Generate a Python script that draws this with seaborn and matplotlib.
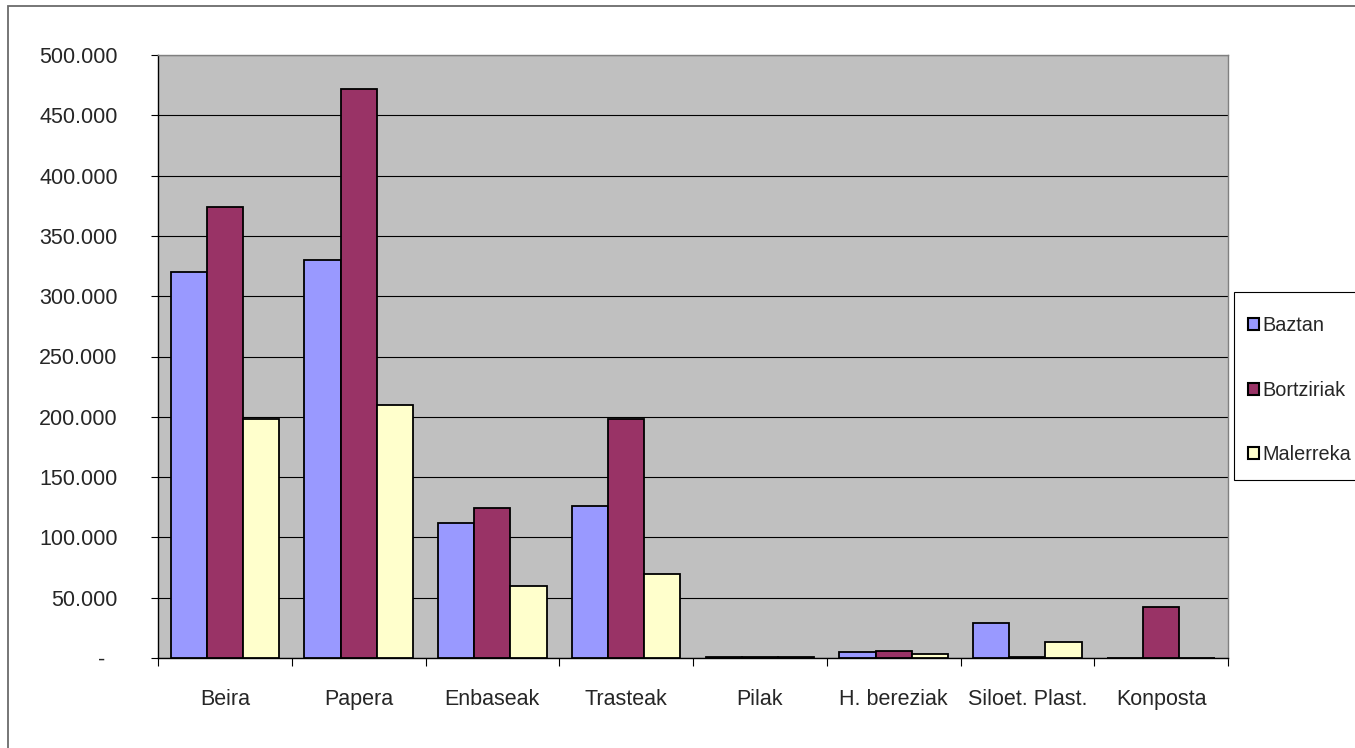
import matplotlib
matplotlib.use("Agg")
import matplotlib.pyplot as plt
import seaborn as sns
import pandas as pd
from matplotlib.patches import Rectangle
from matplotlib.ticker import FixedLocator, FuncFormatter

categories = ["Beira", "Papera", "Enbaseak", "Trasteak", "Pilak", "H. bereziak", "Siloet. Plast.", "Konposta"]
baztan = [320000, 330000, 112000, 126000, 500, 5200, 29000, 0]
bortziriak = [374000, 472000, 124000, 198000, 1000, 6000, 500, 42500]
malerreka = [198000, 210000, 59500, 70000, 500, 3500, 13500, 0]
series_names = ["Baztan", "Bortziriak", "Malerreka"]
colors = ["#9999FF", "#993366", "#FFFFCC"]

rows = []
for name, vals in zip(series_names, [baztan, bortziriak, malerreka]):
    for c, v in zip(categories, vals):
        rows.append({"cat": c, "serie": name, "val": v})
df = pd.DataFrame(rows)

sns.set_theme(style="white")
plt.rcParams['font.family'] = ['Liberation Sans', 'DejaVu Sans']

W, H = 1355, 748
fig = plt.figure(figsize=(W / 100, H / 100), dpi=100)
ax = fig.add_axes([158 / W, 1 - 658 / H, (1228 - 158) / W, (658 - 55) / H])
ax.set_facecolor("#C0C0C0")

sns.barplot(data=df, x="cat", y="val", hue="serie", order=categories,
            hue_order=series_names, palette=colors, width=0.81,
            edgecolor="black", linewidth=1.3, saturation=1, ax=ax, legend=False,
            errorbar=None, zorder=3)

ax.set_xlim(-0.5, len(categories) - 0.5)
ax.set_ylim(0, 500000)
ax.set_yticks(range(0, 500001, 50000))
ax.yaxis.set_major_formatter(FuncFormatter(
    lambda v, p: "-  " if v == 0 else f"{int(v):,}".replace(",", ".")))
ax.grid(axis="y", color="black", linewidth=0.8, zorder=1)
ax.set_axisbelow(True)
ax.set_xlabel("")
ax.set_ylabel("")

ax.tick_params(axis="y", which="major", length=5, width=0.8, color="black",
               direction="out", pad=24, labelsize=15.5, left=True)
ax.tick_params(axis="x", which="major", length=0, pad=22, labelsize=15.5)
ax.xaxis.set_minor_locator(FixedLocator([i - 0.5 for i in range(len(categories) + 1)]))
ax.tick_params(axis="x", which="minor", length=6, width=0.8, color="black",
               direction="out", bottom=True)

for side in ["left", "bottom"]:
    ax.spines[side].set_color("black")
    ax.spines[side].set_linewidth(1.0)
for side in ["right", "top"]:
    ax.spines[side].set_color("#808080")
    ax.spines[side].set_linewidth(1.0)

# Legend frame (drawn manually, runs past the right edge as in the reference)
fig.patches.append(Rectangle((1234 / W, 1 - 480 / H), 200 / W, (480 - 292) / H,
                             transform=fig.transFigure, facecolor="white",
                             edgecolor="#000000", linewidth=0.8, zorder=1))
handles = [Rectangle((0, 0), 1, 1, facecolor=c, edgecolor="black", linewidth=1.5) for c in colors]
leg = fig.legend(handles, series_names, loc="upper left",
                 bbox_to_anchor=(1248 / W, 1 - 316 / H), fontsize=14.3,
                 frameon=False, handlelength=0.55, handleheight=0.55,
                 handletextpad=0.15, labelspacing=2.3, borderpad=0,
                 borderaxespad=0)
leg.set_zorder(2)

# Outer chart border
fig.patches.append(Rectangle((8 / W, -0.1), 1.2, 1 - 6 / H + 0.1, transform=fig.transFigure,
                             fill=False, edgecolor="#6b6b6b", linewidth=1.3))

fig.savefig("out.png", dpi=100)
